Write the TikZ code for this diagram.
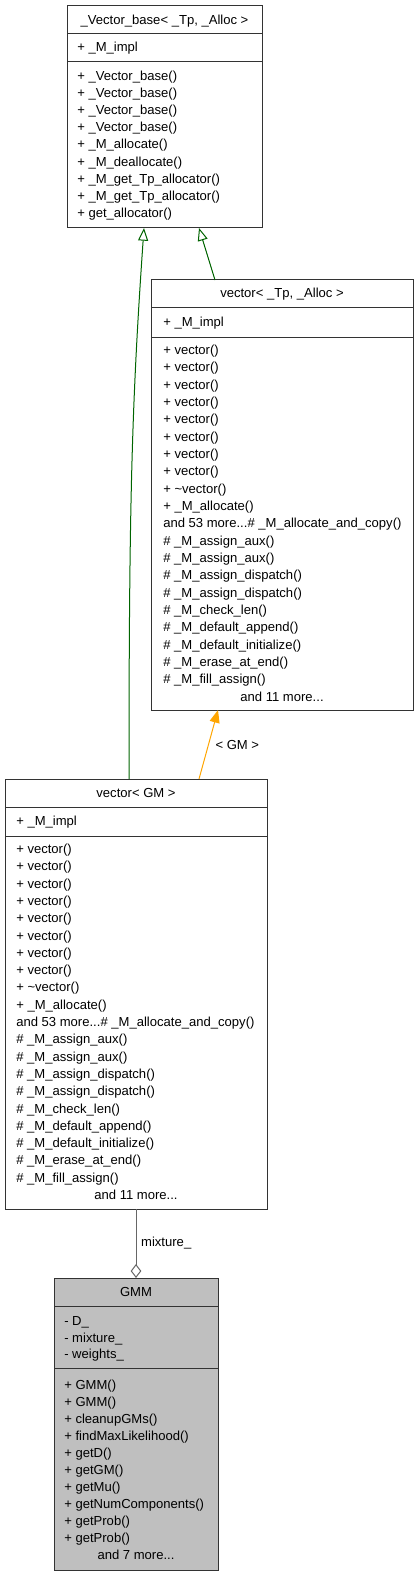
\documentclass[tikz,border=0pt]{standalone}
\usepackage{fontspec}
\setmainfont{Liberation Sans}
\usetikzlibrary{arrows.meta,calc}
\definecolor{inhgreen}{HTML}{006400}
\definecolor{tplorange}{HTML}{FFA500}
\definecolor{usegray}{HTML}{666666}
\definecolor{gmmfill}{HTML}{BFBFBF}
\newcommand{\mdots}{...}
\newcommand{\vecmembers}{+ vector(), + vector(), + vector(), + vector(), + vector(), + vector(), + vector(), + vector(), + \textasciitilde vector(), + \_M\_allocate(), and 53 more\mdots\# \_M\_allocate\_and\_copy(), \# \_M\_assign\_aux(), \# \_M\_assign\_aux(), \# \_M\_assign\_dispatch(), \# \_M\_assign\_dispatch(), \# \_M\_check\_len(), \# \_M\_default\_append(), \# \_M\_default\_initialize(), \# \_M\_erase\_at\_end(), \# \_M\_fill\_assign()}

\begin{document}
\begin{tikzpicture}[x=0.75pt,y=-0.75pt,font=\fontsize{9.8}{12}\selectfont,
  classbox/.style={draw=black!80, line width=0.75pt, fill=white, inner sep=0pt, outer sep=0pt, anchor=north west},
  boxline/.style={draw=black!80, line width=0.75pt},
  member/.style={anchor=base west, inner sep=0pt, yshift=-3.4pt},
  title/.style={anchor=base, inner sep=0pt, yshift=-3.4pt},
  edgelabel/.style={anchor=west, inner sep=0pt},
  inherit/.style={draw=inhgreen, line width=0.75pt, -{Triangle[open,fill=white,length=9.5pt,width=7.5pt]}},
  templ/.style={draw=tplorange, line width=0.75pt, -{Triangle[length=9.5pt,width=7.5pt]}},
  usage/.style={draw=usegray, line width=0.75pt, -{Diamond[open,fill=white,length=10.5pt,width=8pt]}}]
  \useasboundingbox (0,0) rectangle (419,1576);

  % _Vector_base
  \node[classbox, minimum width=146.25pt, minimum height=166.5pt] (vbase) at (67,6) {};
  \draw[boxline] (67,34) -- (262,34);
  \draw[boxline] (67,62) -- (262,62);
  \node[title] (vbtitle) at (164.5,20) {\_Vector\_base< \_Tp, \_Alloc >};
  \node[member] (vbattr) at (77,47) {+ \_M\_impl};
  \foreach \m [count=\i from 0] in {+ \_Vector\_base(), + \_Vector\_base(), + \_Vector\_base(), + \_Vector\_base(), + \_M\_allocate(), + \_M\_deallocate(), + \_M\_get\_Tp\_allocator(), + \_M\_get\_Tp\_allocator(), + get\_allocator()}
    \node[member] (vbm\i) at (77,{76+17.1*\i}) {\m};

  % vector< _Tp, _Alloc >
  \node[classbox, minimum width=196.5pt, minimum height=322.5pt] (vtp) at (151,280) {};
  \draw[boxline] (151,308) -- (413,308);
  \draw[boxline] (151,337) -- (413,337);
  \node[title] (vttitle) at (282,293) {vector< \_Tp, \_Alloc >};
  \node[member] (vtattr) at (163,322) {+ \_M\_impl};
  \foreach \m [count=\i from 0] in \vecmembers
    \node[member] (vtm\i) at (163,{350+17.33*\i}) {\m};
  \node[title] (vtmore) at (282,697) {and 11 more...};

  % vector< GM >
  \node[classbox, minimum width=196.5pt, minimum height=322.5pt] (vgm) at (5,779) {};
  \draw[boxline] (5,807) -- (267,807);
  \draw[boxline] (5,836) -- (267,836);
  \node[title] (vgtitle) at (136,793) {vector< GM >};
  \node[member] (vgattr) at (16,821) {+ \_M\_impl};
  \foreach \m [count=\i from 0] in \vecmembers
    \node[member] (vgm\i) at (16,{849+17.3*\i}) {\m};
  \node[title] (vgmore) at (136,1195) {and 11 more...};

  % GMM
  \node[classbox, fill=gmmfill, minimum width=123pt, minimum height=219pt] (gmm) at (54,1278) {};
  \draw[boxline] (54,1306) -- (218,1306);
  \draw[boxline] (54,1368) -- (218,1368);
  \node[title] (gmtitle) at (136,1292) {GMM};
  \foreach \m [count=\i from 0] in {- D\_, - mixture\_, - weights\_}
    \node[member] (gma\i) at (64,{1321+16.7*\i}) {\m};
  \foreach \m [count=\i from 0] in {+ GMM(), + GMM(), + cleanupGMs(), + findMaxLikelihood(), + getD(), + getGM(), + getMu(), + getNumComponents(), + getProb(), + getProb()}
    \node[member] (gmm\i) at (64,{1385+17*\i}) {\m};
  \node[title] (gmmore) at (136,1555) {and 7 more...};

  % relations
  \draw[inherit] ($(vgm.north)+(-7,0)$) .. controls (129,500) and (132,400) .. ($(vbase.south)+(-20.5,0)$);
  \draw[inherit] ($(vtp.north)+(-67,0)$) -- ($(vbase.south)+(34.5,0)$);
  \draw[templ] ($(vgm.north)+(63,0)$) -- node[edgelabel, midway, xshift=4.9pt] (tlabel) {< GM >} ($(vtp.south)+(-64,0)$);
  \draw[usage] (vgm.south) -- node[edgelabel, midway, xshift=3.5pt] (ulabel) {mixture\_} (gmm.north);
\end{tikzpicture}
\end{document}
